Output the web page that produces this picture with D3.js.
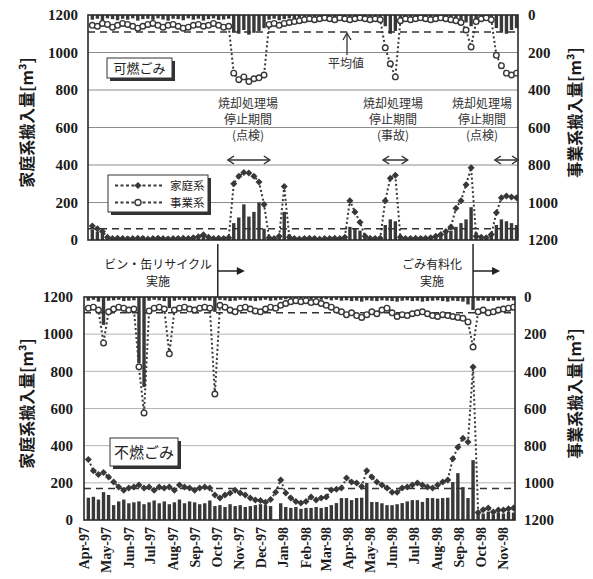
<!DOCTYPE html>
<html>
<head>
<meta charset="utf-8">
<script src="https://cdn.jsdelivr.net/npm/d3@7"></script>
<style>
body { margin: 0; background: #fff; }
</style>
</head>
<body>
<div id="chart"></div>
<script>
// weekly values, first week 1997-04-07, last week 1998-11-16 (85 weeks)
var weeks = d3.timeDay.range(new Date(1997, 3, 7), new Date(1998, 10, 17), 7);

var monthLabels = ["Apr-97", "May-97", "Jun-97", "Jul-97", "Aug-97", "Sep-97", "Oct-97",
    "Nov-97", "Dec-97", "Jan-98", "Feb-98", "Mar-98", "Apr-98", "May-98", "Jun-98",
    "Jul-98", "Aug-98", "Sep-98", "Oct-98", "Nov-98"];
var monthDates = d3.timeMonth.range(new Date(1997, 3, 1), new Date(1998, 11, 1));

// 可燃ごみ (top panel)
var burnHome = [75, 60, 45, 15, 8, 10, 8, 6, 8, 10, 8, 6, 8, 10, 8, 6, 8, 8, 10, 8,
    12, 18, 28, 15, 8, 10, 8, 12, 300, 340, 360, 358, 340, 310, 190, 12, 8, 20, 285, 15,
    8, 6, 8, 10, 8, 6, 8, 8, 10, 8, 15, 210, 150, 95, 20, 10, 8, 10, 210, 330,
    345, 15, 8, 8, 10, 8, 10, 12, 20, 30, 45, 70, 170, 210, 295, 385, 20, 15, 12, 30,
    145, 225, 235, 230, 225];
var burnBiz = [55, 60, 45, 50, 65, 55, 45, 50, 60, 70, 60, 50, 45, 55, 65, 55, 50, 60, 70, 65,
    55, 50, 60, 55, 45, 55, 65, 60, 310, 345, 330, 355, 340, 335, 320, 50, 45, 55, 45, 40,
    35, 30, 25, 20, 25, 20, 15, 20, 25, 15, 20, 25, 20, 15, 20, 25, 20, 25, 175, 260,
    330, 30, 20, 25, 20, 15, 20, 25, 20, 15, 20, 25, 30, 40, 80, 170, 35, 20, 15, 25,
    215, 270, 310, 320, 310];
var burnHomeBar = [55, 45, 35, 20, 15, 18, 12, 20, 15, 18, 22, 14, 16, 20, 12, 18, 15, 20, 14, 18,
    22, 25, 30, 20, 15, 18, 20, 22, 90, 120, 190, 125, 150, 200, 60, 20, 15, 25, 150, 30,
    15, 12, 18, 14, 20, 15, 12, 18, 16, 14, 20, 70, 60, 50, 25, 15, 18, 20, 80, 110,
    100, 25, 15, 18, 14, 20, 16, 18, 25, 30, 40, 50, 70, 90, 110, 175, 40, 25, 20, 30,
    80, 110, 100, 90, 80];
var burnBizBar = [25, 20, 30, 18, 22, 28, 20, 25, 18, 30, 22, 20, 26, 18, 24, 30, 20, 22, 28, 18,
    25, 20, 30, 22, 18, 26, 24, 20, 90, 100, 80, 105, 95, 85, 70, 25, 20, 28, 22, 18,
    25, 20, 15, 22, 18, 25, 20, 15, 22, 20, 18, 25, 20, 15, 22, 18, 20, 25, 60, 100,
    85, 25, 20, 18, 22, 15, 20, 25, 18, 20, 22, 25, 20, 28, 40, 60, 30, 22, 25, 30,
    70, 90, 100, 80, 70];

// 不燃ごみ (bottom panel)
var nonburnHome = [325, 265, 245, 255, 232, 205, 178, 160, 172, 178, 188, 172, 178, 160, 178, 172, 178, 160, 188, 178,
    172, 160, 172, 178, 172, 135, 118, 135, 145, 160, 145, 135, 118, 107, 105, 95, 110, 150, 215, 145,
    118, 100, 91, 100, 124, 107, 118, 124, 161, 165, 172, 226, 204, 199, 180, 265, 231, 204, 188, 172,
    150, 150, 172, 177, 188, 199, 188, 177, 172, 188, 204, 215, 330, 392, 440, 420, 823, 40, 55, 65,
    43, 54, 54, 60, 65];
var nonburnBiz = [60, 55, 70, 247, 80, 65, 55, 60, 70, 65, 376, 624, 75, 60, 55, 65, 306, 70, 60, 55,
    65, 70, 60, 55, 60, 522, 45, 55, 70, 80, 60, 55, 65, 75, 80, 65, 55, 60, 45, 35,
    25, 20, 25, 20, 30, 25, 35, 45, 55, 70, 80, 95, 85, 100, 110, 95, 80, 90, 70, 60,
    85, 105, 95, 100, 90, 85, 80, 90, 100, 105, 95, 100, 105, 110, 115, 134, 269, 80, 70, 85,
    80, 70, 65, 60, 55];
var nonburnHomeBar = [120, 125, 110, 150, 135, 80, 100, 110, 90, 95, 100, 85, 95, 105, 90, 100, 85, 95, 110, 90,
    100, 95, 85, 90, 105, 75, 80, 70, 85, 75, 80, 70, 75, 80, 85, 80, 75, 0, 90, 70,
    65, 70, 60, 65, 65, 70, 65, 70, 80, 91, 118, 118, 107, 118, 120, 199, 97, 97, 90, 80,
    80, 85, 91, 100, 107, 107, 97, 118, 118, 115, 118, 120, 204, 252, 177, 118, 322, 40, 35, 45,
    30, 40, 35, 45, 40];
var nonburnBizBar = [20, 15, 25, 150, 20, 18, 15, 22, 20, 18, 355, 484, 20, 15, 18, 22, 60, 20, 15, 18,
    22, 20, 15, 18, 20, 80, 15, 18, 22, 20, 15, 18, 20, 22, 18, 15, 20, 18, 15, 12,
    10, 12, 10, 15, 12, 10, 15, 12, 18, 15, 20, 18, 22, 20, 25, 18, 20, 22, 18, 20,
    22, 25, 20, 18, 22, 20, 25, 22, 20, 18, 22, 25, 20, 22, 25, 40, 70, 20, 18, 22,
    20, 18, 15, 20, 18];

var burnAvg = [60, 90];      // 家庭系, 事業系
var nonburnAvg = [170, 85];
var gridValues = [200, 400, 600, 800, 1000];
var axisValues = [0, 200, 400, 600, 800, 1000, 1200];

// shutdown periods of the incinerator (top panel arrows)
var stops = [
    {from: new Date(1997, 9, 12), to: new Date(1997, 11, 9), lines: ["焼却処理場", "停止期間", "(点検)"], tx: 248},
    {from: new Date(1998, 4, 15), to: new Date(1998, 5, 18), lines: ["焼却処理場", "停止期間", "(事故)"], tx: 393},
    {from: new Date(1998, 9, 17), to: new Date(1998, 10, 18), lines: ["焼却処理場", "停止期間", "(点検)"], tx: 482}
];
var events = [
    {date: new Date(1997, 9, 3), lines: ["ビン・缶リサイクル", "実施"], tx: 158},
    {date: new Date(1998, 8, 21), lines: ["ごみ有料化", "実施"], tx: 432}
];

var W = 593, H = 579;
var dark = "#383838";
var barW = 3.4;
var serif = "'Liberation Serif', 'DejaVu Serif', serif";
var jp = "'Noto Sans CJK JP', 'Noto Sans', sans-serif";

var svg = d3.select("#chart").append("svg")
    .attr("width", W)
    .attr("height", H);

var xDomain = [new Date(1997, 3, 1), new Date(1998, 10, 18)];

var topPanel = {
    x: d3.scaleTime().domain(xDomain).range([88, 518]),
    yL: d3.scaleLinear().domain([0, 1200]).range([240, 15]),
    yR: d3.scaleLinear().domain([0, 1200]).range([15, 240]),
    home: burnHome, biz: burnBiz, homeBar: burnHomeBar, bizBar: burnBizBar,
    avg: burnAvg, grid: "#8c8c8c", padL: 10, padR: 10
};
var bottomPanel = {
    x: d3.scaleTime().domain(xDomain).range([84, 515]),
    yL: d3.scaleLinear().domain([0, 1200]).range([520, 297]),
    yR: d3.scaleLinear().domain([0, 1200]).range([297, 520]),
    home: nonburnHome, biz: nonburnBiz, homeBar: nonburnHomeBar, bizBar: nonburnBizBar,
    avg: nonburnAvg, grid: "#b4b4b4", padL: 11, padR: 9
};

function diamond(s) {
    return "M0," + (-s) + "L" + s + ",0L0," + s + "L" + (-s) + ",0Z";
}

function drawPanel(p, id) {
    var x = p.x, yL = p.yL, yR = p.yR;
    var x0 = x.range()[0], x1 = x.range()[1];
    var yTop = yL.range()[1], yBot = yL.range()[0];
    var g = svg.append("g");

    g.append("clipPath").attr("id", "clip" + id)
        .append("rect")
        .attr("x", x0).attr("y", yTop)
        .attr("width", x1 - x0).attr("height", yBot - yTop);

    // grid lines
    g.selectAll(".grid").data(gridValues).enter().append("line")
        .attr("x1", x0).attr("x2", x1)
        .attr("y1", function(d) { return yL(d); })
        .attr("y2", function(d) { return yL(d); })
        .attr("stroke", p.grid)
        .attr("stroke-width", 1);

    var inner = g.append("g").attr("clip-path", "url(#clip" + id + ")");

    // household bars from the bottom
    inner.selectAll(".hbar").data(p.homeBar).enter().append("rect")
        .attr("x", function(d, i) { return x(weeks[i]) - barW / 2; })
        .attr("width", barW)
        .attr("y", function(d) { return yL(d); })
        .attr("height", function(d) { return yBot - yL(d); })
        .attr("fill", dark);

    // business bars hanging from the top (right axis, inverted)
    inner.selectAll(".bbar").data(p.bizBar).enter().append("rect")
        .attr("x", function(d, i) { return x(weeks[i]) - barW / 2; })
        .attr("width", barW)
        .attr("y", yTop)
        .attr("height", function(d) { return yR(d) - yTop; })
        .attr("fill", dark);

    // average lines
    inner.append("line")
        .attr("x1", x0).attr("x2", x1)
        .attr("y1", yL(p.avg[0])).attr("y2", yL(p.avg[0]))
        .attr("stroke", "#333").attr("stroke-width", 1.5)
        .attr("stroke-dasharray", "7,5");
    inner.append("line")
        .attr("x1", x0).attr("x2", x1)
        .attr("y1", yR(p.avg[1])).attr("y2", yR(p.avg[1]))
        .attr("stroke", "#333").attr("stroke-width", 1.5)
        .attr("stroke-dasharray", "7,5");

    // dotted series lines
    var lineHome = d3.line()
        .x(function(d, i) { return x(weeks[i]); })
        .y(function(d) { return yL(d); });
    var lineBiz = d3.line()
        .x(function(d, i) { return x(weeks[i]); })
        .y(function(d) { return yR(d); });

    inner.append("path")
        .attr("d", lineHome(p.home))
        .attr("fill", "none").attr("stroke", dark)
        .attr("stroke-width", 2).attr("stroke-dasharray", "2,2.5");
    inner.append("path")
        .attr("d", lineBiz(p.biz))
        .attr("fill", "none").attr("stroke", dark)
        .attr("stroke-width", 2).attr("stroke-dasharray", "2,2.5");

    // markers
    inner.selectAll(".bm").data(p.biz).enter().append("circle")
        .attr("cx", function(d, i) { return x(weeks[i]); })
        .attr("cy", function(d) { return yR(d); })
        .attr("r", 2.8)
        .attr("fill", "#fff")
        .attr("stroke", dark)
        .attr("stroke-width", 1.4);
    inner.selectAll(".hm").data(p.home).enter().append("path")
        .attr("transform", function(d, i) { return "translate(" + x(weeks[i]) + "," + yL(d) + ")"; })
        .attr("d", diamond(3.5))
        .attr("fill", dark);

    // frame
    g.append("rect")
        .attr("x", x0).attr("y", yTop)
        .attr("width", x1 - x0).attr("height", yBot - yTop)
        .attr("fill", "none").attr("stroke", "#2a2a2a").attr("stroke-width", 1.6);

    // axes
    var axL = g.append("g")
        .attr("transform", "translate(" + x0 + ",0)")
        .call(d3.axisLeft(yL).tickValues(axisValues).tickSize(0).tickPadding(p.padL)
            .tickFormat(d3.format("d")));
    var axR = g.append("g")
        .attr("transform", "translate(" + x1 + ",0)")
        .call(d3.axisRight(yR).tickValues(axisValues).tickSize(0).tickPadding(p.padR)
            .tickFormat(d3.format("d")));
    [axL, axR].forEach(function(a) {
        a.select(".domain").remove();
        a.selectAll("text")
            .style("font-family", serif)
            .style("font-size", "15px")
            .style("font-weight", "bold")
            .attr("fill", "#1a1a1a");
    });

    // axis titles
    var midL = (yTop + yBot) / 2;
    g.append("text")
        .attr("transform", "translate(27," + (midL - 5) + ") rotate(-90)")
        .attr("text-anchor", "middle")
        .attr("dy", "0.35em")
        .style("font-family", jp)
        .style("font-size", "16px")
        .style("font-weight", "bold")
        .attr("fill", "#1a1a1a")
        .text("家庭系搬入量[m³]");
    g.append("text")
        .attr("transform", "translate(575," + (midL - 15) + ") rotate(-90)")
        .attr("text-anchor", "middle")
        .attr("dy", "0.35em")
        .style("font-family", jp)
        .style("font-size", "16px")
        .style("font-weight", "bold")
        .attr("fill", "#1a1a1a")
        .text("事業系搬入量[m³]");
}

drawPanel(topPanel, 1);
drawPanel(bottomPanel, 2);

// x axis (bottom panel only)
var xAxis = svg.append("g")
    .attr("transform", "translate(0,520)")
    .call(d3.axisBottom(bottomPanel.x).tickValues(monthDates).tickSize(0)
        .tickFormat(function(d, i) { return monthLabels[i]; }));
xAxis.select(".domain").remove();
xAxis.selectAll("text")
    .attr("transform", "rotate(-90)")
    .attr("text-anchor", "end")
    .attr("x", -7)
    .attr("y", 0)
    .attr("dy", "0.35em")
    .style("font-family", serif)
    .style("font-size", "14px")
    .style("font-weight", "bold")
    .attr("fill", "#1a1a1a");

// label boxes with shadow
function labelBox(x, y, w, h, label, size, ty) {
    svg.append("rect").attr("x", x + 3).attr("y", y + 3).attr("width", w).attr("height", h)
        .attr("fill", "#333");
    svg.append("rect").attr("x", x).attr("y", y).attr("width", w).attr("height", h)
        .attr("fill", "#fff").attr("stroke", "#333").attr("stroke-width", 1);
    if (label) {
        svg.append("text")
            .attr("x", x + w / 2).attr("y", ty)
            .attr("text-anchor", "middle")
            .style("font-family", jp)
            .style("font-size", size + "px")
            .attr("fill", "#222")
            .text(label);
    }
}
labelBox(107, 58, 65, 20, "可燃ごみ", 13, 73);
labelBox(110, 438, 68, 28, "不燃ごみ", 15, 458);

// legend
labelBox(108, 175, 100, 37, null);
var legendRows = [{name: "家庭系", y: 185.5, shape: "diamond"}, {name: "事業系", y: 202.5, shape: "circle"}];
legendRows.forEach(function(r) {
    svg.append("line").attr("x1", 115).attr("x2", 162).attr("y1", r.y).attr("y2", r.y)
        .attr("stroke", dark).attr("stroke-width", 1.8).attr("stroke-dasharray", "3,2.5");
    if (r.shape == "diamond") {
        svg.append("path").attr("transform", "translate(138," + r.y + ")")
            .attr("d", diamond(3.6)).attr("fill", dark);
    } else {
        svg.append("circle").attr("cx", 138).attr("cy", r.y).attr("r", 3)
            .attr("fill", "#fff").attr("stroke", dark).attr("stroke-width", 1.4);
    }
    svg.append("text").attr("x", 170).attr("y", r.y + 4)
        .style("font-family", jp).style("font-size", "11.5px").attr("fill", "#222")
        .text(r.name);
});

// shutdown annotations
function openHead(x, y, dir) {
    return "M" + (x - dir * 6) + "," + (y - 4) + "L" + x + "," + y + "L" + (x - dir * 6) + "," + (y + 4);
}
stops.forEach(function(s) {
    var xa = topPanel.x(s.from), xb = topPanel.x(s.to), ya = 160;
    svg.append("line").attr("x1", xa).attr("x2", xb).attr("y1", ya).attr("y2", ya)
        .attr("stroke", "#333").attr("stroke-width", 1.5);
    svg.append("path").attr("d", openHead(xa, ya, -1) + openHead(xb, ya, 1))
        .attr("fill", "none").attr("stroke", "#333").attr("stroke-width", 1.5);
    s.lines.forEach(function(t, k) {
        svg.append("text").attr("x", s.tx).attr("y", 108 + k * 16)
            .attr("text-anchor", "middle")
            .style("font-family", jp).style("font-size", "12px").attr("fill", "#333")
            .text(t);
    });
});

// 平均値 pointer
svg.append("line").attr("x1", 347).attr("x2", 347).attr("y1", 55).attr("y2", 34)
    .attr("stroke", "#333").attr("stroke-width", 1.3);
svg.append("path").attr("d", "M343,40L347,33L351,40")
    .attr("fill", "none").attr("stroke", "#333").attr("stroke-width", 1.3);
svg.append("text").attr("x", 346).attr("y", 68).attr("text-anchor", "middle")
    .style("font-family", jp).style("font-size", "12px").attr("fill", "#333")
    .text("平均値");

// policy events between the panels
events.forEach(function(e) {
    var xe = bottomPanel.x(e.date);
    svg.append("line").attr("x1", xe).attr("x2", xe).attr("y1", 244).attr("y2", 297)
        .attr("stroke", "#222").attr("stroke-width", 1.5);
    svg.append("line").attr("x1", xe).attr("x2", xe + 20).attr("y1", 271).attr("y2", 271)
        .attr("stroke", "#222").attr("stroke-width", 1.5);
    svg.append("path")
        .attr("d", "M" + (xe + 19) + ",267L" + (xe + 27) + ",271L" + (xe + 19) + ",275Z")
        .attr("fill", "#222");
    e.lines.forEach(function(t, k) {
        svg.append("text").attr("x", e.tx).attr("y", 269 + k * 17)
            .attr("text-anchor", "middle")
            .style("font-family", jp).style("font-size", "12px").attr("fill", "#222")
            .text(t);
    });
});
</script>
</body>
</html>
